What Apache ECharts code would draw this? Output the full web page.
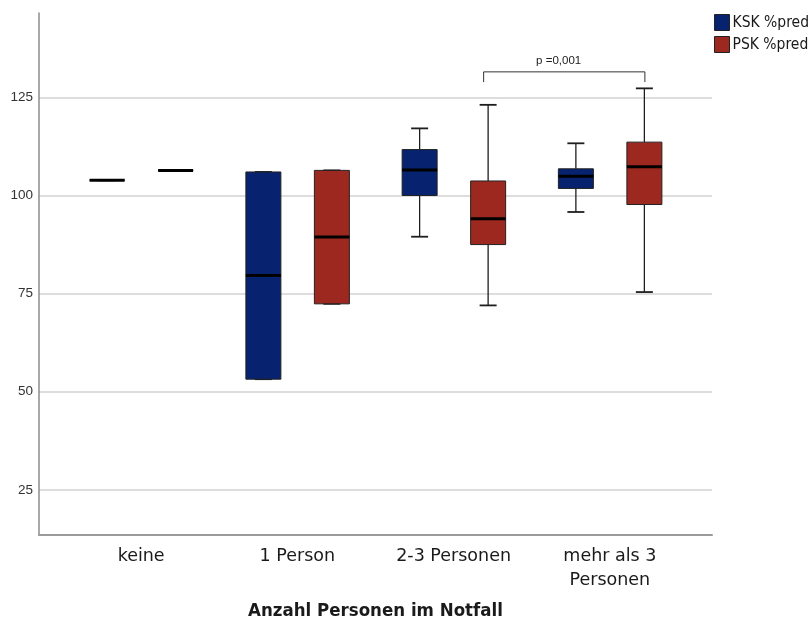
<!DOCTYPE html>
<html>
<head>
<meta charset="utf-8">
<script src="https://cdn.jsdelivr.net/npm/echarts@6/dist/echarts.min.js"></script>
<style>html,body{margin:0;padding:0;background:#fff}#c{width:809px;height:624px}</style>
</head>
<body>
<div id="c"></div>
<script>
// ---- data ----
const categories = ['keine', '1 Person', '2-3 Personen', 'mehr als 3\nPersonen'];
const yTicks = [25, 50, 75, 100, 125];
// [min, Q1, median, Q3, max]
const kskStats = [
  [103.9, 103.9, 103.9, 103.9, 103.9],
  [53.2, 53.2, 79.6, 106.0, 106.0],
  [89.5, 100.0, 106.5, 111.7, 117.1],
  [95.8, 101.8, 104.9, 106.8, 113.3]
];
const pskStats = [
  [106.4, 106.4, 106.4, 106.4, 106.4],
  [72.4, 72.4, 89.4, 106.4, 106.4],
  [72.0, 87.5, 94.1, 103.7, 123.1],
  [75.4, 97.7, 107.3, 113.6, 127.3]
];
const seriesNames = ['KSK %pred', 'PSK %pred'];
const bracketFrom = 2, bracketTo = 3;
const bracketTop = 131.5, bracketEnd = 128.9, bracketLabelY = 134.3;
const bracketLabel = 'p =0,001';
const xTitle = 'Anzahl Personen im Notfall';

const yMin = 13.5, yMax = 146.5;
const colors = ['#07236f', '#9c2820'];
const narrow = 'DejaVu Sans Condensed, Liberation Sans, Arial, sans-serif';

function boxRender(offset, color) {
  return function (params, api) {
    const cat = api.value(0);
    const c = v => api.coord([cat, v]);
    const x = c(api.value(3))[0] + offset;
    const yMn = c(api.value(1))[1], yQ1 = c(api.value(2))[1], yMd = c(api.value(3))[1],
          yQ3 = c(api.value(4))[1], yMx = c(api.value(5))[1];
    const hw = 17.5, cw = 8.5;
    const st = { stroke: '#1e1e1e', lineWidth: 1.3 };
    return {
      type: 'group',
      children: [
        { type: 'line', shape: { x1: x, y1: yMx, x2: x, y2: yQ3 }, style: st },
        { type: 'line', shape: { x1: x, y1: yQ1, x2: x, y2: yMn }, style: st },
        { type: 'line', shape: { x1: x - cw, y1: yMx, x2: x + cw, y2: yMx }, style: { stroke: '#1e1e1e', lineWidth: 1.8 } },
        { type: 'line', shape: { x1: x - cw, y1: yMn, x2: x + cw, y2: yMn }, style: { stroke: '#1e1e1e', lineWidth: 1.8 } },
        { type: 'rect', shape: { x: x - hw, y: yQ3, width: hw * 2, height: yQ1 - yQ3 }, style: { fill: color, stroke: '#222', lineWidth: 1 } },
        { type: 'line', shape: { x1: x - hw, y1: yMd, x2: x + hw, y2: yMd }, style: { stroke: '#000', lineWidth: 3 } }
      ]
    };
  };
}

const chart = echarts.init(document.getElementById('c'));
chart.setOption({
  animation: false,
  backgroundColor: '#fff',
  grid: [
    { left: 39, right: 97, top: 13, bottom: 89, outerBoundsMode: 'none', containLabel: false },
    { left: 63, right: 121, top: 13, bottom: 89, outerBoundsMode: 'none', containLabel: false }
  ],
  xAxis: [
    { gridIndex: 0, type: 'value', min: 0, max: 1,
      axisLine: { show: true, onZero: false, lineStyle: { color: '#9a9a9a', width: 2 } },
      axisTick: { show: false }, axisLabel: { show: false }, splitLine: { show: false } },
    { gridIndex: 1, type: 'category', data: categories,
      axisLine: { show: false }, axisTick: { show: false },
      axisLabel: { margin: 9, fontFamily: 'DejaVu Sans', fontSize: 17.5, lineHeight: 24, color: '#1a1a1a' },
      name: xTitle, nameLocation: 'middle', nameGap: 67,
      nameTextStyle: { fontFamily: narrow, fontWeight: 'bold', fontSize: 18.5, color: '#1a1a1a' } }
  ],
  yAxis: [
    { gridIndex: 0, type: 'value', min: yMin, max: yMax,
      axisLine: { show: true, lineStyle: { color: '#8c8c8c', width: 1.5 } },
      axisTick: { show: false, customValues: yTicks },
      axisLabel: { customValues: yTicks, margin: 6, fontFamily: 'Liberation Sans, Arial, sans-serif', fontSize: 13.5, color: '#333' },
      splitLine: { show: true, lineStyle: { color: '#d2d2d2', width: 1.6 } } },
    { gridIndex: 1, type: 'value', min: yMin, max: yMax, show: false }
  ],
  legend: {
    data: seriesNames.map(n => ({ name: n, icon: 'rect' })),
    orient: 'vertical', left: 709, top: 9,
    itemWidth: 15, itemHeight: 16, itemGap: 5,
    itemStyle: { borderColor: '#222', borderWidth: 1 },
    textStyle: { fontFamily: narrow, fontSize: 15.5, color: '#1a1a1a', padding: [0, 0, 0, -2] }
  },
  series: [
    { name: seriesNames[0], type: 'custom', xAxisIndex: 1, yAxisIndex: 1,
      itemStyle: { color: colors[0] },
      renderItem: boxRender(-34, colors[0]),
      encode: { x: 0, y: [1, 2, 3, 4, 5] },
      data: kskStats.map((s, i) => [i].concat(s)) },
    { name: seriesNames[1], type: 'custom', xAxisIndex: 1, yAxisIndex: 1,
      itemStyle: { color: colors[1] },
      renderItem: boxRender(34.5, colors[1]),
      encode: { x: 0, y: [1, 2, 3, 4, 5] },
      data: pskStats.map((s, i) => [i].concat(s)) },
    { name: 'bracket', type: 'custom', xAxisIndex: 1, yAxisIndex: 1, silent: true,
      renderItem: function (params, api) {
        const a = api.coord([api.value(0), api.value(2)]);
        const b = api.coord([api.value(1), api.value(2)]);
        const e = api.coord([api.value(0), api.value(3)]);
        const t = api.coord([api.value(0), api.value(4)]);
        const x1 = a[0] + 30, x2 = b[0] + 35;
        return {
          type: 'group',
          children: [
            { type: 'polyline', shape: { points: [[x1, e[1]], [x1, a[1]], [x2, a[1]], [x2, e[1]]] },
              style: { stroke: '#333', lineWidth: 1, fill: null } },
            { type: 'text', style: { text: bracketLabel, x: x1 + 75, y: t[1], align: 'center', verticalAlign: 'middle',
              fontFamily: 'Liberation Sans, Arial, sans-serif', fontSize: 11.5, fill: '#222' } }
          ]
        };
      },
      data: [[bracketFrom, bracketTo, bracketTop, bracketEnd, bracketLabelY]] }
  ]
});
</script>
</body>
</html>
